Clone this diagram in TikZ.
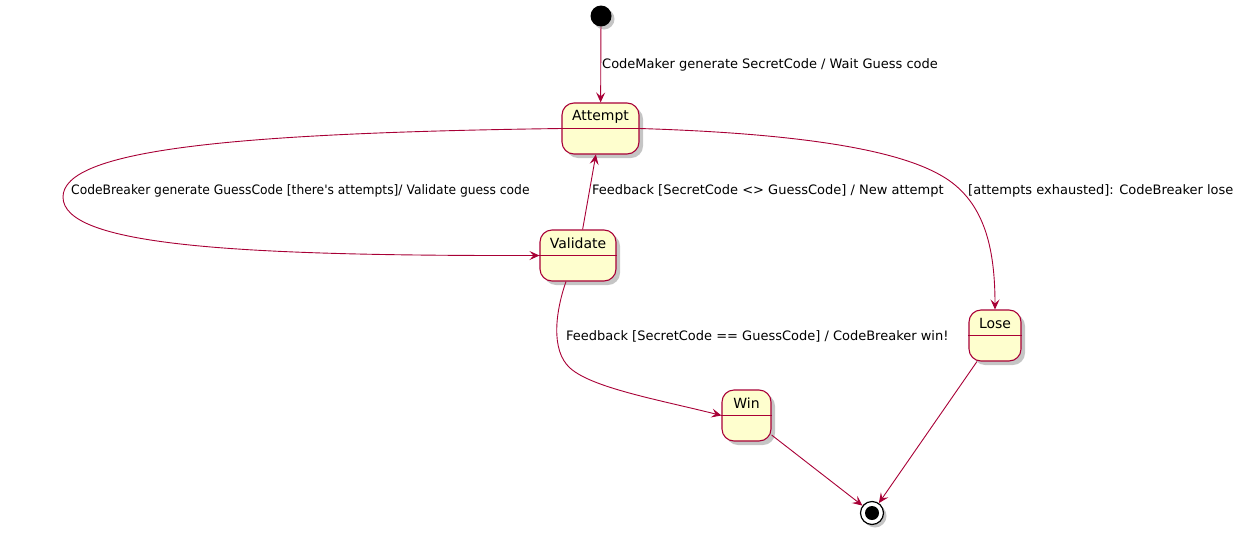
\documentclass[tikz,border=0pt]{standalone}
\usepackage{fontspec}
\setmainfont{DejaVu Sans}
\usetikzlibrary{arrows.meta,shadows,calc}
\definecolor{umlred}{HTML}{A80036}
\definecolor{umlfill}{HTML}{FEFECE}
\tikzset{
  statebox/.style={draw=umlred, fill=umlfill, line width=1.1pt, rounded corners=12pt,
    minimum height=51pt, inner sep=0pt,
    drop shadow={shadow xshift=4pt, shadow yshift=-4pt, fill=black!45, opacity=0.5}},
  statename/.style={font=\fontsize{14}{16}\selectfont, text=black},
  edge/.style={draw=umlred, line width=0.9pt, -{Stealth[length=10pt,width=9pt,inset=4pt]}},
  elabel/.style={font=\fontsize{13}{15}\selectfont, text=black, anchor=west, inner sep=0pt},
  divider/.style={draw=umlred, line width=1.1pt}
}
\begin{document}
\begin{tikzpicture}[x=1pt,y=-1pt]
\useasboundingbox (0,0) rectangle (1239,536);
% states
\node[circle, fill=black, minimum size=21pt, inner sep=0pt,
  drop shadow={shadow xshift=3pt, shadow yshift=-3pt, fill=black!45, opacity=0.5}] (start) at (601,16) {};
\node[statebox, minimum width=77pt, label={[statename,yshift=12pt]center:Attempt}] (att) at (600.5,128.5) {};
\node[statebox, minimum width=76pt, label={[statename,yshift=12pt]center:Validate}] (val) at (578,255.5) {};
\node[statebox, minimum width=52pt, label={[statename,yshift=12pt]center:Lose}] (lose) at (995,335.5) {};
\node[statebox, minimum width=49pt, label={[statename,yshift=12pt]center:Win}] (win) at (746.5,415.5) {};
\node[circle, draw=black, line width=1.2pt, fill=white, minimum size=23pt, inner sep=0pt,
  drop shadow={shadow xshift=3pt, shadow yshift=-3pt, fill=black!45, opacity=0.5}] (end) at (872,513) {};
\node[circle, fill=black, minimum size=14pt, inner sep=0pt] (endin) at (end.center) {};
\draw[divider] (att.west) -- (att.east);
\draw[divider] (val.west) -- (val.east);
\draw[divider] (lose.west) -- (lose.east);
\draw[divider] (win.west) -- (win.east);
% edges
\draw[edge] (start) -- (att);
\draw[edge] (att.west) .. controls (230,133) and (63,150) .. (63,197)
  .. controls (63,245) and (230,256) .. (val.west);
\draw[edge] (val) -- (att);
\draw[edge] (att.east) .. controls (850,135) and (925,160) .. (955,185)
  .. controls (985,210) and (995,250) .. (lose.north);
\draw[edge] ($(val.south)+(-12,0)$) .. controls (556,310) and (550,350) .. (570,368)
  .. controls (592,388) and (660,400) .. (win.west);
\draw[edge] (win) -- (end);
\draw[edge] (lose) -- (end);
% labels
\node[elabel] (l1) at (602,65) {CodeMaker generate SecretCode / Wait Guess code};
\node[elabel] (l2) at (71,191) {\scalebox{0.946}[1]{CodeBreaker generate GuessCode [there\textquotesingle s attempts]/ Validate guess code}};
\node[elabel] (l3) at (592,191) {Feedback [SecretCode <> GuessCode] / New attempt};
\node[elabel] (l4) at (968,191) {[attempts exhausted]: CodeBreaker lose};
\node[elabel] (l5) at (566,336) {Feedback [SecretCode == GuessCode] / CodeBreaker win!};
\end{tikzpicture}
\end{document}
